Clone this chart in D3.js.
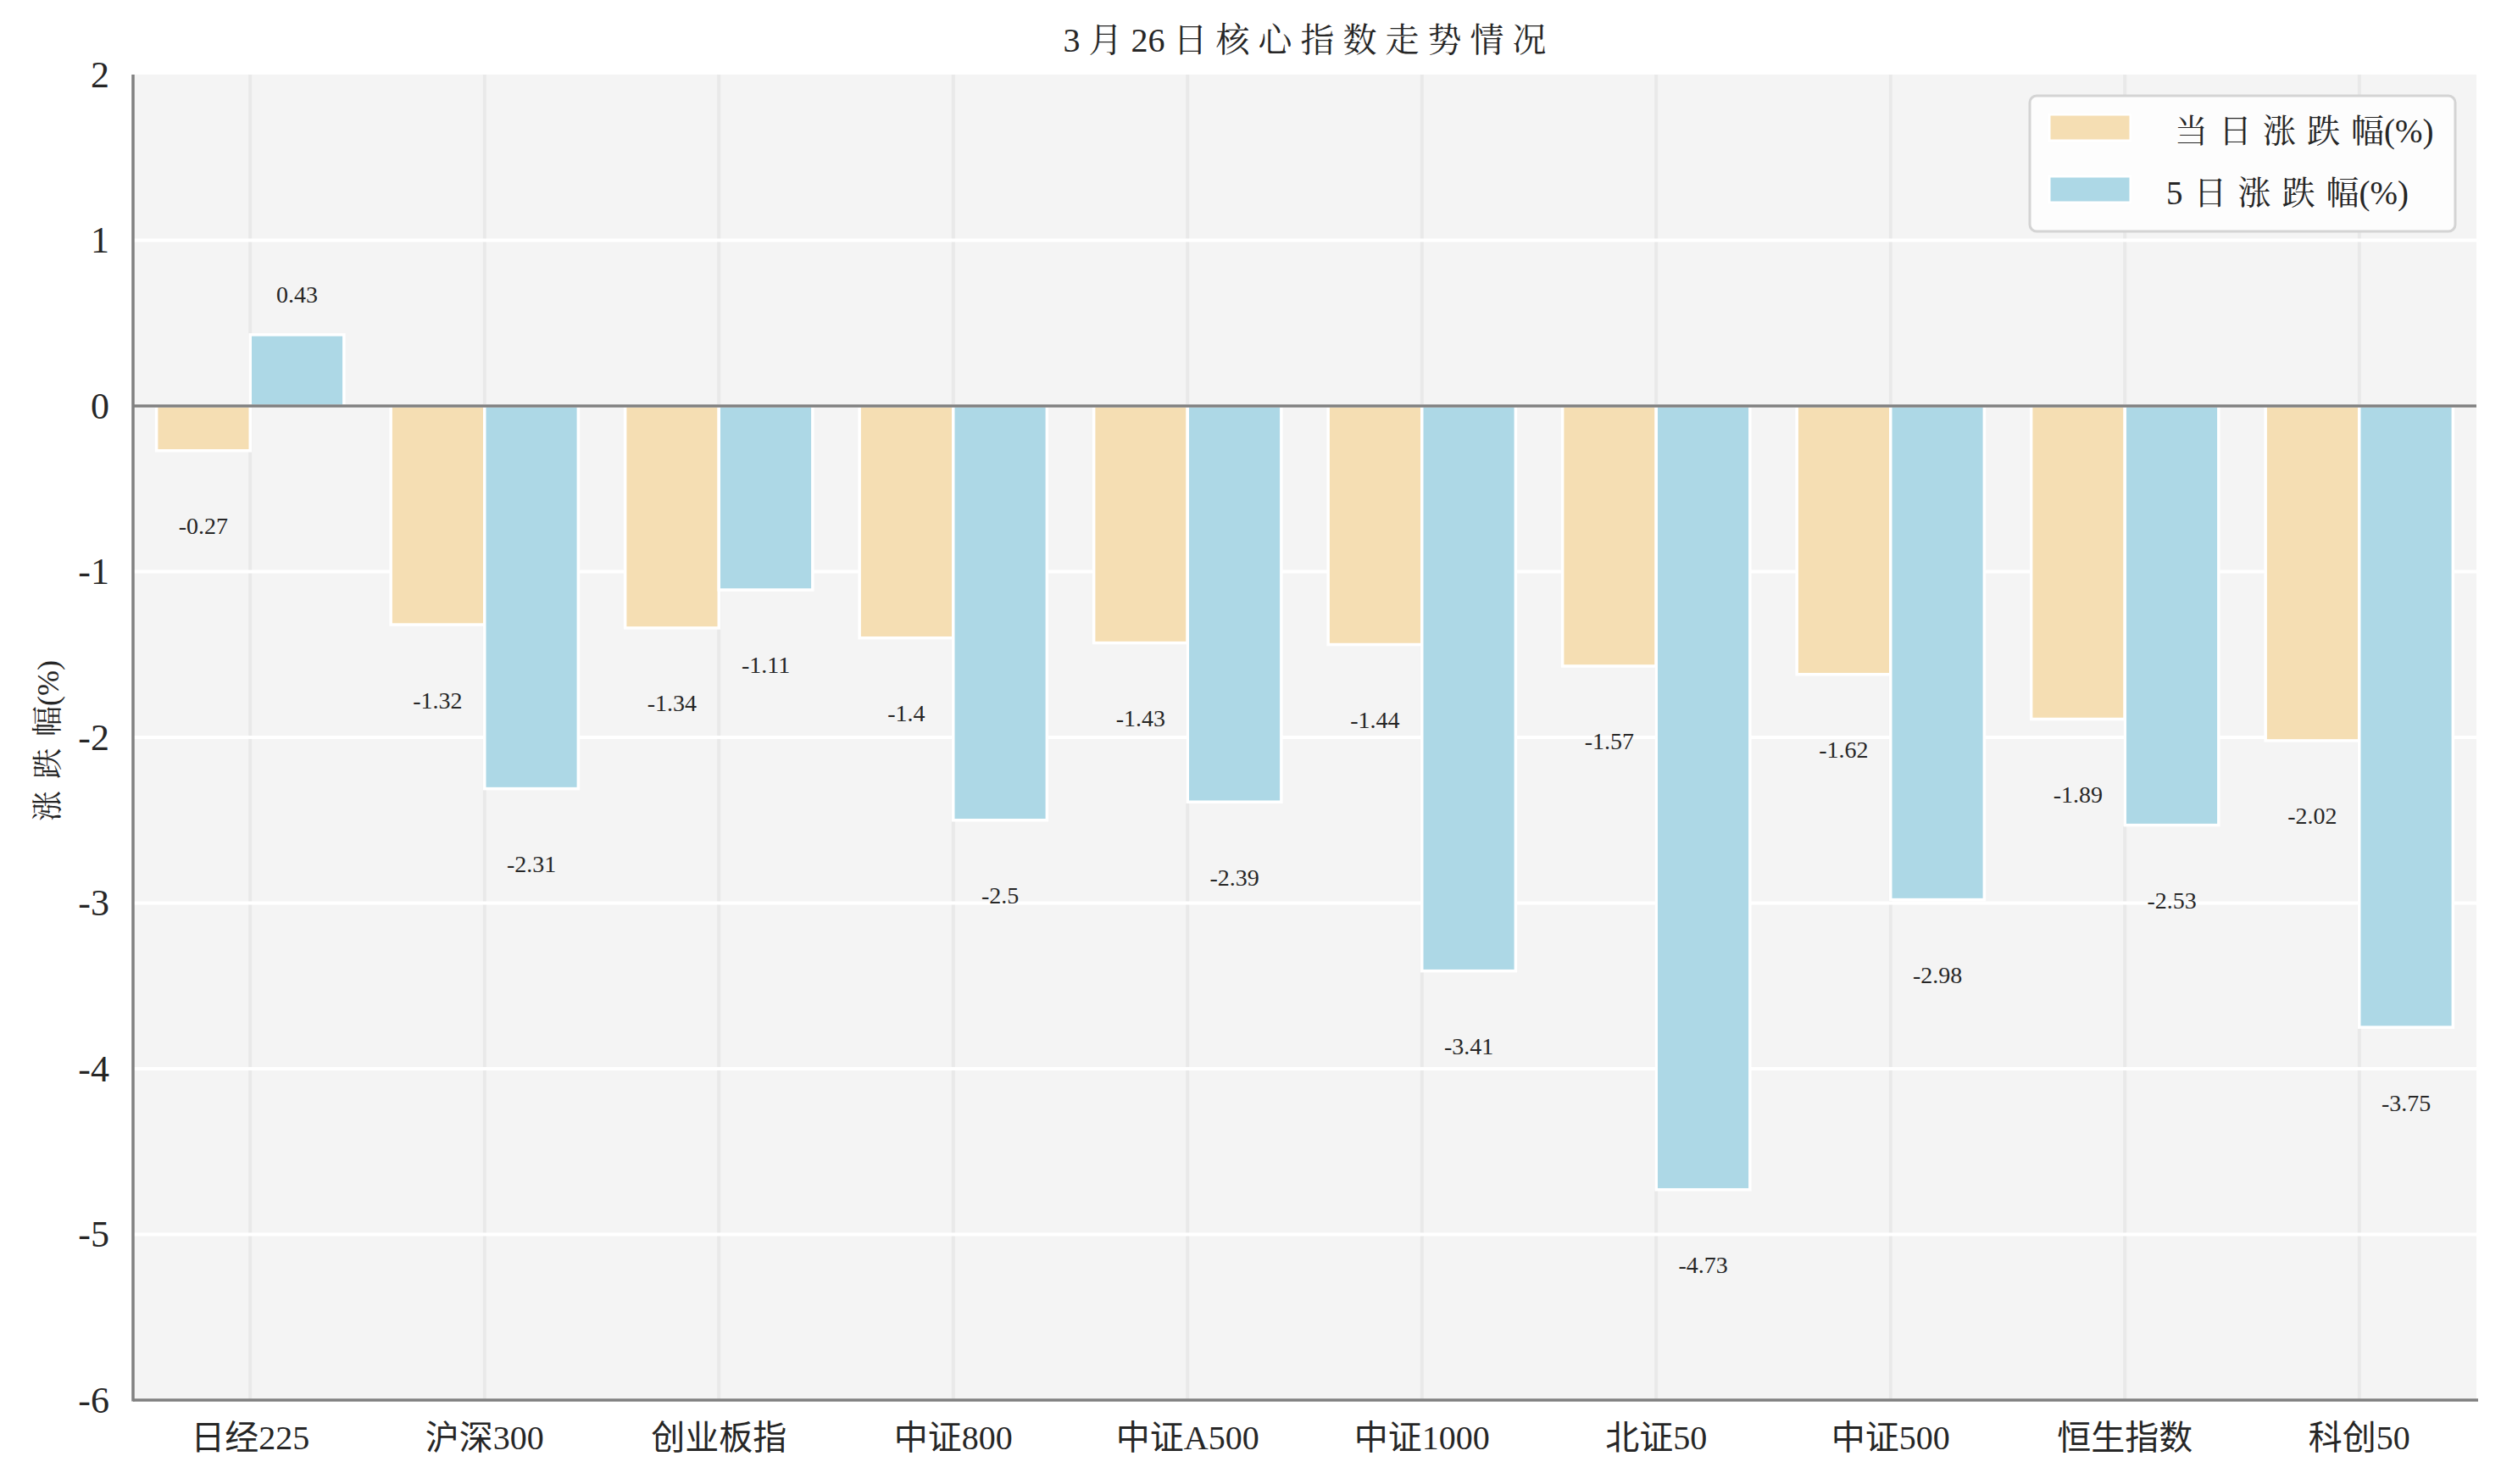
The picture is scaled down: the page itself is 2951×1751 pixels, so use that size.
<!DOCTYPE html>
<html>
<head>
<meta charset="utf-8">
<script src="https://cdn.jsdelivr.net/npm/d3@7"></script>
<style>
  html, body { margin: 0; padding: 0; background: #ffffff; }
  svg { display: block; }
  text { font-family: "Liberation Serif", "Noto Serif CJK SC", "Noto Sans CJK SC", serif; fill: #262626; }
</style>
</head>
<body>
<script>
const categories = ['日经225','沪深300','创业板指','中证800','中证A500','中证1000','北证50','中证500','恒生指数','科创50'];
const seriesNames = ['当日涨跌幅(%)', '5日涨跌幅(%)'];
const dailyChange = [-0.27, -1.32, -1.34, -1.4, -1.43, -1.44, -1.57, -1.62, -1.89, -2.02];
const fiveDayChange = [0.43, -2.31, -1.11, -2.5, -2.39, -3.41, -4.73, -2.98, -2.53, -3.75];
const yTicks = [2, 1, 0, -1, -2, -3, -4, -5, -6];
const seriesColors = ['#F5DEB3', '#ADD8E6'];
const titleText = '3月26日核心指数走势情况';
const yLabelText = '涨跌幅(%)';

const W = 2951, H = 1751;
const plot = { left: 157, right: 2922, top: 88, bottom: 1652 };

const svg = d3.select('body').append('svg').attr('width', W).attr('height', H);

// letter spacing next to CJK characters (not before the bracket)
const isCJK = ch => /[\u3000-\u9fff\uff00-\uffef]/.test(ch);
function spacedText(sel, str, spacing) {
  const chars = Array.from(str);
  sel.selectAll('tspan').data(chars).join('tspan')
    .attr('letter-spacing', (ch, i) => {
      const nx = chars[i + 1];
      if (nx === undefined || nx === '(') return 0;
      return (isCJK(ch) || isCJK(nx)) ? spacing : 0;
    })
    .text(ch => ch);
}

const x = d3.scaleBand().domain(categories).range([plot.left, plot.right]).padding(0);
const xSub = d3.scaleBand().domain(seriesNames).range([0.1 * x.bandwidth(), 0.9 * x.bandwidth()]).padding(0);
const y = d3.scaleLinear().domain([-6, 2]).range([plot.bottom, plot.top]);

// plot background
svg.append('rect').attr('x', plot.left).attr('y', plot.top)
  .attr('width', plot.right - plot.left).attr('height', plot.bottom - plot.top)
  .attr('fill', '#f4f4f4');

// vertical grid lines
svg.append('g').selectAll('line').data(categories).join('line')
  .attr('x1', d => x(d) + x.bandwidth() / 2).attr('x2', d => x(d) + x.bandwidth() / 2)
  .attr('y1', plot.top).attr('y2', plot.bottom)
  .attr('stroke', '#e9e9e9').attr('stroke-width', 4);

// horizontal grid lines
svg.append('g').selectAll('line').data(yTicks.filter(t => t !== 2 && t !== -6)).join('line')
  .attr('x1', plot.left).attr('x2', plot.right)
  .attr('y1', d => y(d)).attr('y2', d => y(d))
  .attr('stroke', '#ffffff').attr('stroke-width', 4);

// bars
const rows = categories.map((c, i) => ({ cat: c, values: [dailyChange[i], fiveDayChange[i]] }));
const barData = [];
rows.forEach(r => r.values.forEach((v, k) => barData.push({ cat: r.cat, series: seriesNames[k], k, v })));

svg.append('g').selectAll('rect').data(barData).join('rect')
  .attr('x', d => x(d.cat) + xSub(d.series))
  .attr('width', xSub.bandwidth())
  .attr('y', d => y(Math.max(0, d.v)))
  .attr('height', d => Math.abs(y(d.v) - y(0)))
  .attr('fill', d => seriesColors[d.k])
  .attr('stroke', '#ffffff').attr('stroke-width', 3.5);

// value labels
svg.append('g').selectAll('text').data(barData).join('text')
  .attr('x', d => x(d.cat) + xSub(d.series) + xSub.bandwidth() / 2)
  .attr('y', d => d.v >= 0 ? y(d.v + 0.245) : y(d.v - 0.455))
  .attr('text-anchor', 'middle').attr('dominant-baseline', 'central')
  .attr('font-size', 28)
  .text(d => String(d.v));

// zero line
svg.append('line').attr('x1', plot.left).attr('x2', plot.right)
  .attr('y1', y(0)).attr('y2', y(0))
  .attr('stroke', '#808080').attr('stroke-width', 3.5);

// spines
svg.append('line').attr('x1', plot.left).attr('x2', plot.left)
  .attr('y1', plot.top).attr('y2', plot.bottom + 1.5)
  .attr('stroke', '#808080').attr('stroke-width', 3.5);
svg.append('line').attr('x1', plot.left).attr('x2', plot.right + 2)
  .attr('y1', plot.bottom).attr('y2', plot.bottom)
  .attr('stroke', '#808080').attr('stroke-width', 3.5);

// y axis ticks via d3 axis
const yAxis = d3.axisLeft(y).tickValues(yTicks).tickSize(0).tickPadding(28).tickFormat(d => String(d));
const gy = svg.append('g').attr('transform', `translate(${plot.left},0)`).call(yAxis);
gy.select('.domain').remove();
gy.selectAll('text').attr('font-size', 44).attr('fill', '#262626')
  .style('font-family', '"Liberation Serif", serif');

// x axis ticks
const xAxis = d3.axisBottom(x).tickSize(0).tickPadding(30);
const gx = svg.append('g').attr('transform', `translate(0,${plot.bottom})`).call(xAxis);
gx.select('.domain').remove();
gx.selectAll('text').attr('font-size', 40).attr('fill', '#262626')
  .attr('dy', '0.71em')
  .style('font-family', '"Liberation Serif", "Noto Sans CJK SC", serif');

// title
const title = svg.append('text').attr('x', (plot.left + plot.right) / 2).attr('y', 47)
  .attr('text-anchor', 'middle').attr('dominant-baseline', 'central')
  .attr('font-size', 40);
spacedText(title, titleText, 10);

// y label
const yl = svg.append('text')
  .attr('transform', `translate(57, 874) rotate(-90)`)
  .attr('text-anchor', 'middle').attr('dominant-baseline', 'central')
  .attr('font-size', 36);
spacedText(yl, yLabelText, 14);

// legend
const leg = svg.append('g');
leg.append('rect').attr('x', 2395).attr('y', 113).attr('width', 502).attr('height', 160)
  .attr('rx', 8).attr('fill', '#fdfdfd').attr('stroke', '#d4d4d4').attr('stroke-width', 3);
seriesNames.forEach((name, k) => {
  const cy = 151 + k * 73;
  leg.append('rect').attr('x', 2418).attr('y', cy - 16).attr('width', 96).attr('height', 31)
    .attr('fill', seriesColors[k]).attr('stroke', '#ffffff').attr('stroke-width', 3);
  const t = leg.append('text').attr('x', k === 0 ? 2566 : 2556).attr('y', cy + 3)
    .attr('dominant-baseline', 'central')
    .attr('font-size', 39);
  spacedText(t, name, 13);
});
</script>
</body>
</html>
